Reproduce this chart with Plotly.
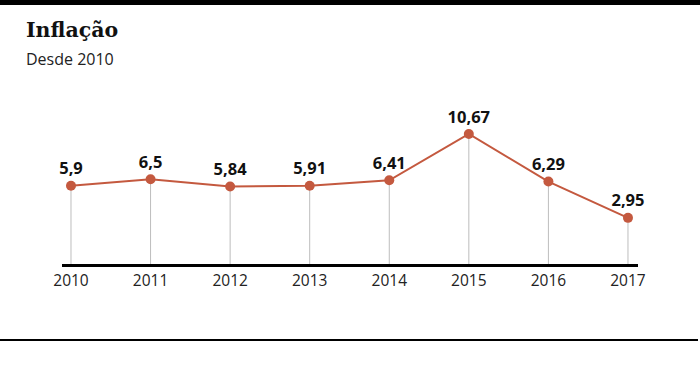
import plotly.graph_objects as go

years = [2010, 2011, 2012, 2013, 2014, 2015, 2016, 2017]
inflation = [5.9, 6.5, 5.84, 5.91, 6.41, 10.67, 6.29, 2.95]
labels = [str(v).replace('.', ',') for v in inflation]
tick_labels = [str(y) for y in years]

W, H = 700, 377
L, R, T, B = 62, 62, 100, 113
plot_h = H - T - B
plot_w = W - L - R

def py(p):
    return (H - B - p) / plot_h

def px(p):
    return (p - L) / plot_w

line_color = "#c4593f"
ymin, ymax = -1.3, 13.8

fig = go.Figure()

# drop lines
dx, dy = [], []
for x, v in zip(years, inflation):
    dx += [x, x, None]
    dy += [ymin, v, None]
fig.add_trace(go.Scatter(x=dx, y=dy, mode="lines",
                         line=dict(color="#bdbdbd", width=1),
                         hoverinfo="skip", showlegend=False))

fig.add_trace(go.Scatter(
    x=years, y=inflation, mode="lines+markers+text",
    line=dict(color=line_color, width=2),
    marker=dict(color=line_color, size=10),
    text=labels, textposition="top center",
    textfont=dict(family="Open Sans", size=16.5, color="#111111", weight="bold"),
    showlegend=False, cliponaxis=False))

fig.update_layout(
    width=W, height=H,
    margin=dict(l=L, r=R, t=T, b=B),
    paper_bgcolor="white", plot_bgcolor="white",
    xaxis=dict(range=[2009.887, 2017.126], tickmode="array", tickvals=years,
               ticktext=tick_labels, showgrid=False, zeroline=False,
               showline=True, linecolor="black", linewidth=3, ticks="",
               ticklabelstandoff=0,
               tickfont=dict(family="Open Sans", size=15.5, color="#222222"),
               fixedrange=True),
    yaxis=dict(range=[ymin, ymax], visible=False, showgrid=False, fixedrange=True),
    shapes=[
        dict(type="rect", xref="paper", yref="paper", x0=px(0), x1=px(700),
             y0=py(5), y1=py(0), fillcolor="black", line=dict(width=0), layer="above"),
        dict(type="rect", xref="paper", yref="paper", x0=px(0), x1=px(698),
             y0=py(341), y1=py(339), fillcolor="black", line=dict(width=0), layer="above"),
    ],
    annotations=[
        dict(text="<b>Inflação</b>", xref="paper", yref="paper", x=px(24), y=py(30),
             xanchor="left", yanchor="middle", showarrow=False,
             font=dict(family="DejaVu Serif", size=20.5, color="#111111")),
        dict(text="Desde 2010", xref="paper", yref="paper", x=px(24), y=py(59),
             xanchor="left", yanchor="middle", showarrow=False,
             font=dict(family="Open Sans", size=16, color="#222222")),
    ],
)

fig.write_html("out.html", config={"displayModeBar": False},
               post_script="document.body.style.margin='0';document.body.style.overflow='hidden';")
